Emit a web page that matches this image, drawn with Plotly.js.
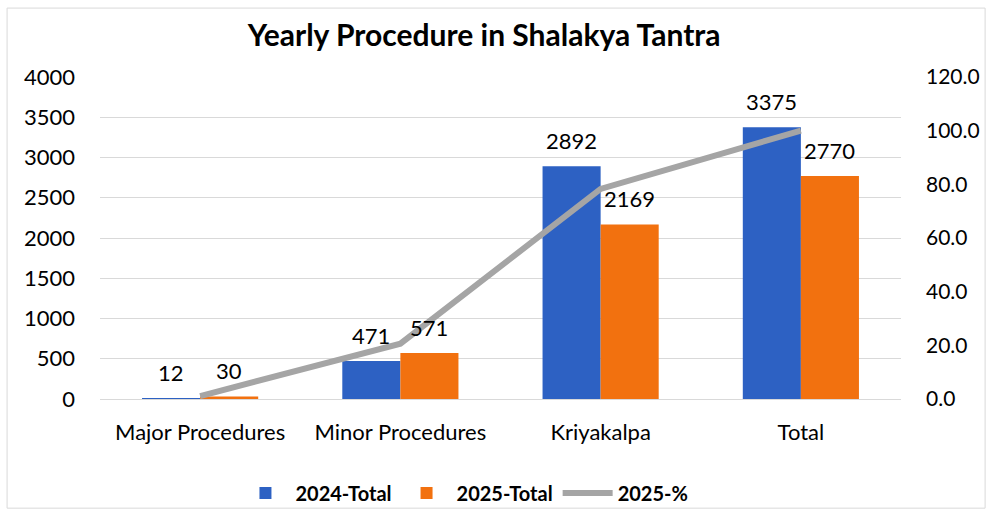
<!DOCTYPE html>
<html><head><meta charset="utf-8">
<script src="https://cdn.plot.ly/plotly-3.0.1.min.js"></script>
<style>html,body{margin:0;padding:0;background:#fff}#c{width:988px;height:513px}</style>
</head><body><div id="c"></div>
<script>
const categories = ["Major Procedures", "Minor Procedures", "Kriyakalpa", "Total"];
const total2024 = [12, 471, 2892, 3375];
const total2025 = [30, 571, 2169, 2770];
const pct2025 = [1.1, 20.6, 78.3, 100.0];
const leftTicks = [0, 500, 1000, 1500, 2000, 2500, 3000, 3500, 4000];
const rightTicks = [0, 20, 40, 60, 80, 100, 120];

const FONT = "Lato, 'Open Sans', sans-serif";
const blue = "#2D61C3", orange = "#F2710F", gray = "#A5A5A5";

const traces = [
  {type: "bar", name: "2024-Total", x: categories, y: total2024, marker: {color: blue}, hoverinfo: "none"},
  {type: "bar", name: "2025-Total", x: categories, y: total2025, marker: {color: orange}, hoverinfo: "none"},
  {type: "scatter", mode: "lines", name: "2025-%", x: categories, y: pct2025, yaxis: "y2",
   line: {color: gray, width: 6}, hoverinfo: "none"}
];

const annotations = [];
categories.forEach((c, i) => {
  annotations.push({x: c, y: total2024[i], xref: "x", yref: "y", text: String(total2024[i]),
    showarrow: false, xshift: -29, yshift: 26, yanchor: "middle", font: {family: FONT, size: 22, color: "#000"}});
  annotations.push({x: c, y: total2025[i], xref: "x", yref: "y", text: String(total2025[i]),
    showarrow: false, xshift: 29, yshift: 26, yanchor: "middle", font: {family: FONT, size: 22, color: "#000"}});
});

const layout = {
  width: 988, height: 513,
  margin: {l: 100, r: 87, t: 77, b: 114, autoexpand: false},
  paper_bgcolor: "#fff", plot_bgcolor: "#fff",
  font: {family: FONT, size: 22, color: "#000"},
  title: {text: "<b>Yearly Procedure in Shalakya Tantra</b>", x: 0.49, xanchor: "center", y: 0.93, yanchor: "middle",
    font: {family: FONT, size: 30, color: "#000"}},
  barmode: "group", bargap: 0.42, bargroupgap: 0,
  xaxis: {type: "category", showgrid: false, showline: false, ticks: "", tickfont: {size: 22}, ticklabelstandoff: 18, automargin: false},
  yaxis: {range: [0, 4000], tickvals: leftTicks, showgrid: true, gridcolor: "#D9D9D9", gridwidth: 1, automargin: false,
    zeroline: true, zerolinecolor: "#D9D9D9", showline: false, ticks: "", tickfont: {size: 22}, ticklabelstandoff: 24},
  yaxis2: {range: [0, 120], tickvals: rightTicks, tickformat: ".1f", overlaying: "y", side: "right", automargin: false,
    showgrid: false, zeroline: false, showline: false, ticks: "", tickfont: {size: 21}, ticklabelstandoff: 24},
  showlegend: true,
  legend: {orientation: "h", x: 0.455, xanchor: "center", yref: "container", y: 0.039, yanchor: "middle",
    bgcolor: "rgba(0,0,0,0)",
    font: {family: FONT, size: 20, color: "#000", weight: "bold"}, itemwidth: 50, tracegroupgap: 30},
  annotations: annotations,
  shapes: [{type: "rect", xref: "paper", yref: "paper", x0: -0.116, x1: 1.105, y0: -0.339, y1: 1.214,
    line: {color: "#D9D9D9", width: 1}, fillcolor: "rgba(0,0,0,0)", layer: "below"}]
};

Plotly.newPlot("c", traces, layout, {displayModeBar: false, staticPlot: true});
</script></body></html>
